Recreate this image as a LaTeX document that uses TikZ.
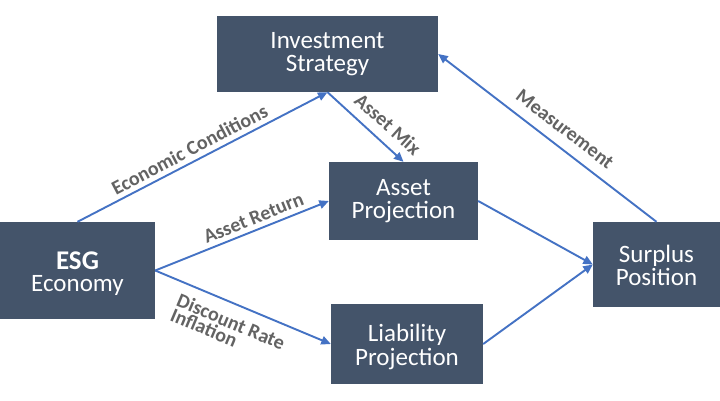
\documentclass[tikz,border=0pt]{standalone}
\usepackage{fontspec}
\setmainfont{Carlito}
\usetikzlibrary{arrows.meta}
\definecolor{boxc}{HTML}{44546A}
\definecolor{arrc}{HTML}{4472C4}
\definecolor{labc}{HTML}{636363}
\newcommand{\btext}[2]{\raisebox{#1}[\height][\depth]{\begin{tabular}{@{}c@{}}#2\end{tabular}}}
\begin{document}
\begin{tikzpicture}[x=1pt,y=-1pt,
  box/.style={fill=boxc, text=white, inner sep=0pt, font=\fontsize{25}{21}\selectfont},
  conn/.style={draw=arrc, line width=1.9pt, -{Triangle[length=9.5pt,width=8.5pt]}},
  lab/.style={text=labc, font=\bfseries\fontsize{20}{16}\selectfont, inner sep=0pt}]
\useasboundingbox[fill=white] (0,0) rectangle (720,400);
\node[box, minimum width=221pt, minimum height=76pt] (is) at (327.5,54) {\btext{-1pt}{Investment\\Strategy}};
\node[box, minimum width=149pt, minimum height=78pt] (ap) at (403.5,201) {\btext{-1pt}{\fontsize{25}{19}\selectfont Asset\\Projection}};
\node[box, minimum width=152pt, minimum height=80pt] (lp) at (407,344) {\btext{-4pt}{Liability\\Projection}};
\node[box, minimum width=155pt, minimum height=97pt] (esg) at (77.5,270.5) {\btext{-4pt}{\fontsize{25}{20}\selectfont{\bfseries\fontsize{27}{20}\selectfont ESG}\\Economy}};
\node[box, minimum width=127pt, minimum height=85pt] (sp) at (656.5,264.5) {\btext{-4pt}{\fontsize{25}{22}\selectfont Surplus\\Position}};
\draw[conn] (esg.north) -- (is.south);
\draw[conn] (is.south) -- (ap.north);
\draw[conn] (sp.north) -- (is.east);
\draw[conn] (esg.east) -- (ap.west);
\draw[conn] (esg.east) -- (lp.west);
\draw[conn] (ap.east) -- (sp.west);
\draw[conn] (lp.east) -- (sp.west);
\node[lab, rotate=27.6] (l1) at (189.5,149.5) {Economic Conditions};
\node[lab, rotate=21.9] (l2) at (253.5,218) {Asset Return};
\node[lab, rotate=-22.8, align=left] (l3) at (228,329) {Discount Rate\\Inflation};
\node[lab, rotate=-41.8] (l4) at (388,124) {Asset Mix};
\node[lab, rotate=-37.5] (l5) at (565,129) {Measurement};
\end{tikzpicture}
\end{document}
